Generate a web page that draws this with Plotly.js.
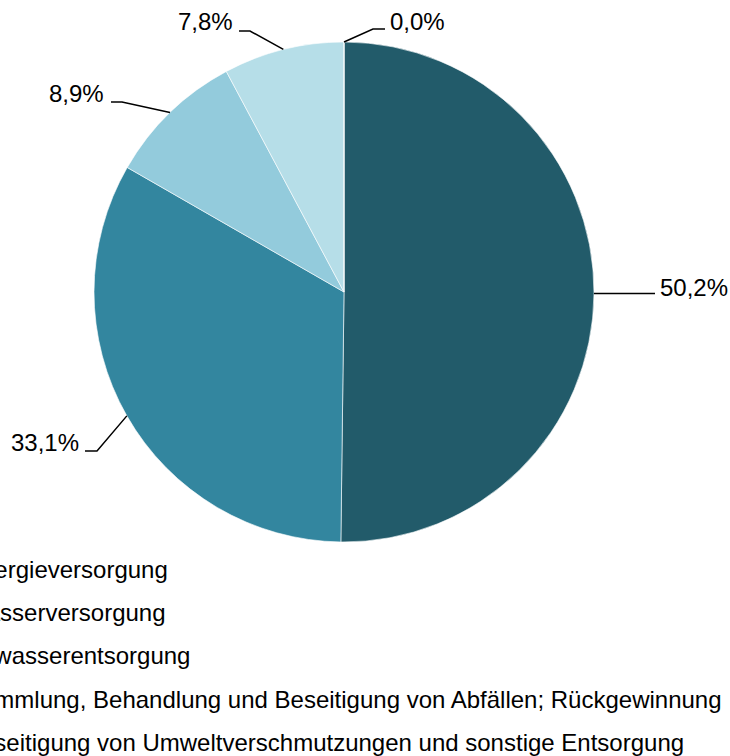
<!DOCTYPE html>
<html>
<head>
<meta charset="utf-8">
<script src="https://cdn.plot.ly/plotly-3.0.1.min.js"></script>
<style>html,body{margin:0;padding:0;background:#fff;}#chart{width:730px;height:756px;}</style>
</head>
<body>
<div id="chart"></div>
<script>
// ---- data ----
const categories = [
  "Energieversorgung",
  "Wasserversorgung",
  "Abwasserentsorgung",
  "Sammlung, Behandlung und Beseitigung von Abfällen; Rückgewinnung",
  "Beseitigung von Umweltverschmutzungen und sonstige Entsorgung"
];
const shares = [50.2, 33.1, 8.9, 7.8, 0.0];
const valueLabels = ["50,2%", "33,1%", "8,9%", "7,8%", "0,0%"];

// ---- layout / style ----
const W = 730, H = 756;
const CX = 344, CY = 292, R = 250;
const colors = ["#225B6A", "#33869F", "#93CBDC", "#B6DEE8", "#D6EDF3"];
const FONT = "Liberation Sans, Arial, Helvetica, sans-serif";
// leader-line elbows and label placement (pixels)
const leaderElbows = [[640, 293.5], [97, 451], [122, 102], [250, 31], [373, 29]];
const leaderEndX = [655, 85, 111, 239, 385];
const labelX = [659, 80, 105, 234, 389];
const labelY = [287, 442.5, 93.7, 22, 22];
const labelSide = ["left", "right", "right", "right", "left"];

const px = x => x / W;
const py = y => 1 - y / H;

const total = shares.reduce((a, b) => a + b, 0);
let cum = 0;
const shapes = [];
const annotations = [];
shares.forEach((v, i) => {
  const mid = (cum + v / 2) / total * 2 * Math.PI;
  cum += v;
  const ex = CX + R * Math.sin(mid);
  const ey = CY - R * Math.cos(mid);
  const [bx, by] = leaderElbows[i];
  shapes.push({
    type: "path", xref: "paper", yref: "paper",
    path: `M ${px(ex)} ${py(ey)} L ${px(bx)} ${py(by)} L ${px(leaderEndX[i])} ${py(by)}`,
    line: {color: "#000", width: 1.5}
  });
  annotations.push({
    xref: "paper", yref: "paper",
    x: px(labelX[i]), y: py(labelY[i]),
    xanchor: labelSide[i], yanchor: "middle",
    text: valueLabels[i], showarrow: false, borderpad: 0,
    font: {family: FONT, size: 24, color: "#000"}
  });
});

const trace = {
  type: "pie",
  labels: categories.map(c => `<span style="font-size:24px">${c}</span>`),
  values: shares,
  sort: false,
  direction: "clockwise",
  rotation: 0,
  textinfo: "none",
  hoverinfo: "label+percent",
  marker: {colors: colors, line: {color: "#ffffff", width: 0.6}},
  domain: {x: [px(CX - R), px(CX + R)], y: [py(CY + R), py(CY - R)]}
};

const layout = {
  width: W, height: H,
  margin: {l: 0, r: 0, t: 0, b: 0, autoexpand: false},
  paper_bgcolor: "#fff",
  showlegend: true,
  legend: {
    x: px(-75), xanchor: "left",
    y: py(539), yanchor: "top",
    font: {family: FONT, size: 31, color: "#000"},
    bgcolor: "rgba(0,0,0,0)",
    traceorder: "normal"
  },
  shapes: shapes,
  annotations: annotations
};

Plotly.newPlot("chart", [trace], layout, {displayModeBar: false, staticPlot: true});
</script>
</body>
</html>
